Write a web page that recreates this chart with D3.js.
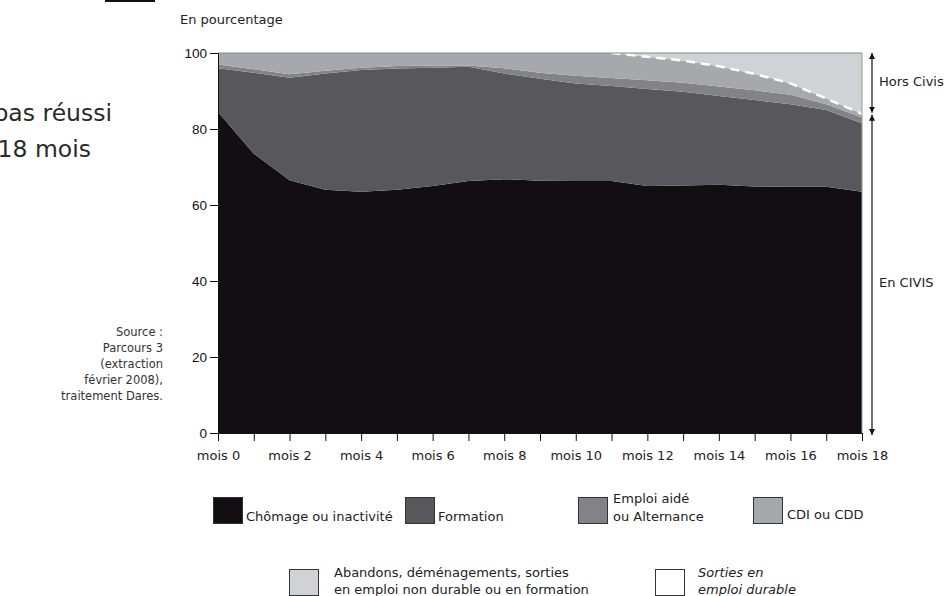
<!DOCTYPE html>
<html>
<head>
<meta charset="utf-8">
<script src="https://cdn.jsdelivr.net/npm/d3@7"></script>
<style>
body{margin:0;background:#fff;}
svg{display:block;}
.lbl{font-family:"DejaVu Sans",sans-serif;font-size:13px;fill:#222;}
.ytick{font-family:"Liberation Sans",Arial,sans-serif;font-size:13.5px;fill:#111;}
</style>
</head>
<body>
<div id="chart"></div>
<script>
'use strict';
// months (x categories)
var months = [0,1,2,3,4,5,6,7,8,9,10,11,12,13,14,15,16,17,18];
var xTickLabels = ["mois 0","mois 2","mois 4","mois 6","mois 8","mois 10","mois 12","mois 14","mois 16","mois 18"];
var yTicks = [0,20,40,60,80,100];

// shares in % for each month, bottom to top
var chomage   = [84.5,73.5,66.5,64,63.5,64,65,66.3,66.8,66.4,66.3,66.3,65,65.1,65.3,64.9,64.8,64.8,63.5];
var formation = [11.5,21.3,27,30.6,32,31.9,31.1,30.1,27.8,26.8,25.7,25,25.5,24.7,23.4,22.7,21.7,20.2,18];
var emploiAide= [1,0.9,0.9,0.7,0.6,0.7,0.6,0.3,1.4,1.6,2,2.1,2.3,2.4,2.5,2.6,2.5,1.5,1.5];
var cdiCdd    = [3,4.3,5.6,4.7,3.9,3.4,3.3,3.3,4,5.2,6,6.6,6.2,5.8,5.3,4.3,3,1.5,1];
var abandons  = [0,0,0,0,0,0,0,0,0,0,0,0,1,2,3.5,5.5,8,12,16];
// first month of the dashed "sorties en emploi durable" line
var dashedFrom = 11;

var keys = ["chomage","formation","emploiAide","cdiCdd","abandons"];
var colors = {chomage:"#120e12",formation:"#58585c",emploiAide:"#838387",cdiCdd:"#a7a8ac",abandons:"#d1d2d5"};

var table = months.map(function(m,i){
    return {mois:m,chomage:chomage[i],formation:formation[i],emploiAide:emploiAide[i],cdiCdd:cdiCdd[i],abandons:abandons[i]};
});

var width = 950, height = 596;
var svg = d3.select("#chart").append("svg")
    .attr("width", width)
    .attr("height", height);

var x = d3.scaleLinear().domain([0,18]).range([218,862]);
var y = d3.scaleLinear().domain([0,100]).range([433,53]);

var series = d3.stack().keys(keys)(table);

var area = d3.area()
    .x(function(d){ return x(d.data.mois); })
    .y0(function(d){ return y(d[0]); })
    .y1(function(d){ return y(d[1]); });

svg.append("g").selectAll("path")
    .data(series)
    .enter().append("path")
    .attr("fill", function(d){ return colors[d.key]; })
    .attr("d", area);

// dashed white line on top of CDI layer
var cdiSeries = series[3].filter(function(d){ return d.data.mois >= dashedFrom; });
svg.append("path")
    .datum(cdiSeries)
    .attr("fill","none")
    .attr("stroke","#fff")
    .attr("stroke-width",2.5)
    .attr("stroke-dasharray","9,6")
    .attr("d", d3.line()
        .x(function(d){ return x(d.data.mois); })
        .y(function(d){ return y(d[1]); }));

// frame top and right
svg.append("line").attr("x1",x(0)).attr("x2",x(18)).attr("y1",y(100)).attr("y2",y(100))
    .attr("stroke","#8a8a8a").attr("stroke-width",1.2);
svg.append("line").attr("x1",x(18)).attr("x2",x(18)).attr("y1",y(100)).attr("y2",y(0))
    .attr("stroke","#999").attr("stroke-width",1);

// x axis
var xAxis = svg.append("g")
    .attr("transform","translate(0,"+y(0)+")")
    .call(d3.axisBottom(x).tickValues(months).tickSize(8).tickFormat(function(d){
        return d % 2 === 0 ? xTickLabels[d/2] : "";
    }));
xAxis.select(".domain").attr("stroke","#111");
xAxis.selectAll(".tick line").attr("stroke","#111");
xAxis.selectAll("text").attr("class","lbl").attr("dy","1.25em");
xAxis.attr("font-family",null).attr("font-size",null);

// y axis
var yAxis = svg.append("g")
    .attr("transform","translate("+x(0)+",0)")
    .call(d3.axisLeft(y).tickValues(yTicks).tickSize(8).tickPadding(3));
yAxis.select(".domain").attr("stroke","#111");
yAxis.selectAll(".tick line").attr("stroke","#111");
yAxis.selectAll("text").attr("class","ytick");
yAxis.attr("font-family",null).attr("font-size",null);

svg.append("text").attr("class","lbl").attr("x",180).attr("y",24).text("En pourcentage");

// right brackets
var split = y(series[3][series[3].length-1][1]);
var bx = 872;
var defs = svg.append("defs");
defs.append("marker").attr("id","arr").attr("viewBox","0 0 10 10")
    .attr("refX",10).attr("refY",5).attr("markerWidth",6).attr("markerHeight",7)
    .attr("orient","auto-start-reverse").attr("markerUnits","userSpaceOnUse")
    .append("path").attr("d","M0,0L10,5L0,10z").attr("fill","#111");
svg.append("line").attr("x1",bx).attr("x2",bx).attr("y1",y(100)).attr("y2",split-1)
    .attr("stroke","#111").attr("stroke-width",1.2)
    .attr("marker-start","url(#arr)").attr("marker-end","url(#arr)");
svg.append("line").attr("x1",bx).attr("x2",bx).attr("y1",split+1).attr("y2",y(0)+2)
    .attr("stroke","#111").attr("stroke-width",1.2)
    .attr("marker-start","url(#arr)").attr("marker-end","url(#arr)");
svg.append("text").attr("class","lbl").attr("x",879).attr("y",86).text("Hors Civis");
svg.append("text").attr("class","lbl").attr("x",879).attr("y",287).text("En CIVIS");

// cut-off title fragment on the left
svg.append("rect").attr("x",105).attr("y",0).attr("width",50).attr("height",2).attr("fill","#111");
var title = svg.append("g").attr("font-family","'DejaVu Sans',sans-serif")
    .attr("font-size","23.5px").attr("fill","#2a2a2a").attr("text-anchor","end");
title.append("text").attr("x",112).attr("y",121).text("pas réussi");
title.append("text").attr("x",91).attr("y",157).text("18 mois");

// source
var sourceLines = ["Source :","Parcours 3","(extraction","février 2008),","traitement Dares."];
svg.append("g").selectAll("text").data(sourceLines).enter().append("text")
    .attr("class","lbl").attr("text-anchor","end")
    .style("font-size","11.5px").style("fill","#333")
    .attr("x",163).attr("y",function(d,i){ return 336 + i*16; })
    .text(function(d){ return d; });

// legend
var legendItems = [
    {fill:colors.chomage, bx:213, by:497, lines:["Chômage ou inactivité"], tx:246, ty:[521], italic:false},
    {fill:colors.formation, bx:405, by:497, lines:["Formation"], tx:438, ty:[521], italic:false},
    {fill:colors.emploiAide, bx:578, by:497, lines:["Emploi aidé","ou Alternance"], tx:613, ty:[503,521], italic:false},
    {fill:colors.cdiCdd, bx:753, by:497, lines:["CDI ou CDD"], tx:787, ty:[519], italic:false},
    {fill:colors.abandons, bx:289, by:569, lines:["Abandons, déménagements, sorties","en emploi non durable ou en formation"], tx:334, ty:[577,594], italic:false},
    {fill:"#fff", bx:655, by:569, lines:["Sorties en","emploi durable"], tx:698, ty:[577,594], italic:true}
];
var lg = svg.append("g").selectAll("g").data(legendItems).enter().append("g");
lg.append("rect")
    .attr("x",function(d){ return d.bx+0.5; })
    .attr("y",function(d){ return d.by+0.5; })
    .attr("width",29).attr("height",26)
    .attr("fill",function(d){ return d.fill; })
    .attr("stroke","#333").attr("stroke-width",1);
lg.each(function(d){
    var g = d3.select(this);
    d.lines.forEach(function(t,i){
        g.append("text").attr("class","lbl")
            .attr("x",d.tx).attr("y",d.ty[i])
            .style("font-style",d.italic?"italic":"normal")
            .text(t);
    });
});
</script>
</body>
</html>
